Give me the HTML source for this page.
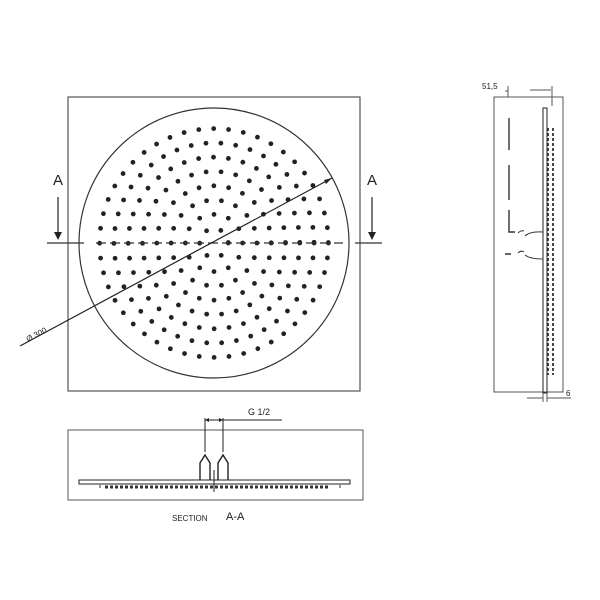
<!DOCTYPE html>
<html><head><style>body{margin:0;background:#fff}svg{display:block}</style></head><body>
<svg width="600" height="600" xmlns="http://www.w3.org/2000/svg" font-family="Liberation Sans, sans-serif">
<rect width="600" height="600" fill="#fff"/>
<g fill="none" stroke="#222" stroke-width="4.8" stroke-linecap="round" stroke-dasharray="0 1">
<circle cx="214" cy="243" r="14.3" pathLength="6"/>
<circle cx="214" cy="243" r="28.6" pathLength="12"/>
<circle cx="214" cy="243" r="42.9" pathLength="18"/>
<circle cx="214" cy="243" r="57.2" pathLength="24"/>
<circle cx="214" cy="243" r="71.5" pathLength="30"/>
<circle cx="214" cy="243" r="85.8" pathLength="36"/>
<circle cx="214" cy="243" r="100.1" pathLength="42"/>
<circle cx="214" cy="243" r="114.4" pathLength="48"/>
</g>
<g fill="none" stroke="#555" stroke-width="1.2">
<rect x="68" y="97" width="292" height="294"/>
<circle cx="214" cy="243" r="135" stroke="#333"/>
<line x1="47" y1="243" x2="84" y2="243" stroke="#333"/>
<line x1="96" y1="243" x2="343" y2="243" stroke="#333" stroke-dasharray="10,4"/>
<line x1="355" y1="243" x2="382" y2="243" stroke="#333"/>
<line x1="20" y1="346" x2="332" y2="178" stroke="#222"/>
<line x1="58" y1="197" x2="58" y2="236" stroke="#222"/>
<line x1="372" y1="197" x2="372" y2="236" stroke="#222"/>
</g>
<path d="M54,232 L58,240 L62,232Z M368,232 L372,240 L376,232Z M332,178 L324,180 L326,184Z" fill="#222"/>
<text x="53" y="185" font-size="15" fill="#222">A</text>
<text x="367" y="185" font-size="15" fill="#222">A</text>
<text x="28" y="342" font-size="8" fill="#222" transform="rotate(-28 28 342)">Ø 300</text>
<!-- side view -->
<g fill="none" stroke="#555" stroke-width="1">
<rect x="494" y="97" width="69" height="295"/>
<rect x="543" y="108" width="4" height="285" stroke="#222"/>
<path d="M509,118 V150 M509,165 V200 M509,210 V232 H515 M505,254 H511" stroke="#333" stroke-width="1.4"/>
<path d="M518,233 q3,-3 6,-2 M525,236 q5,-5 18,-4 M518,253 q3,-3 6,-1 M525,255 q5,4 18,4" stroke="#333"/>
<path d="M548,128 V375 M553,128 V375" stroke="#333" stroke-dasharray="3,2" stroke-width="1.8"/>
<line x1="505" y1="91" x2="508" y2="91"/>
<line x1="508" y1="86" x2="508" y2="97"/>
<line x1="530" y1="90" x2="551" y2="90"/>
<line x1="552" y1="86" x2="552" y2="106"/>
<line x1="543" y1="393" x2="543" y2="402"/><line x1="547" y1="393" x2="547" y2="402"/>
<line x1="527" y1="398" x2="543" y2="398"/><line x1="547" y1="398" x2="571" y2="398"/>
</g>
<text x="482" y="89" font-size="8" fill="#222">51,5</text>
<text x="566" y="396" font-size="8" fill="#222">6</text>
<!-- section -->
<g fill="none" stroke="#555" stroke-width="1">
<rect x="68" y="430" width="295" height="70"/>
<rect x="79" y="480" width="271" height="4" stroke="#222"/>
<path d="M100,485 V488 M340,485 V488" stroke="#333"/>
<line x1="105" y1="487" x2="330" y2="487" stroke="#333" stroke-width="3" stroke-dasharray="3,2"/>
<path d="M205,418 V452 M223,418 V452" stroke="#222"/>
<path d="M200,480 V463 L205,455 L210,463 V480 M218,480 V463 L223,455 L228,463 V480" stroke="#222" stroke-width="1.4"/>
<line x1="214" y1="470" x2="214" y2="492" stroke="#222"/>
<line x1="205" y1="420" x2="282" y2="420" stroke="#222"/>
</g>
<path d="M205,420 l4,-2 v4Z M223,420 l-4,-2 v4Z" fill="#222"/>
<text x="248" y="415" font-size="9" fill="#222">G 1/2</text>
<text x="172" y="521" font-size="8" fill="#222">SECTION</text>
<text x="226" y="520" font-size="11" fill="#222">A-A</text>
</svg>
</body></html>
